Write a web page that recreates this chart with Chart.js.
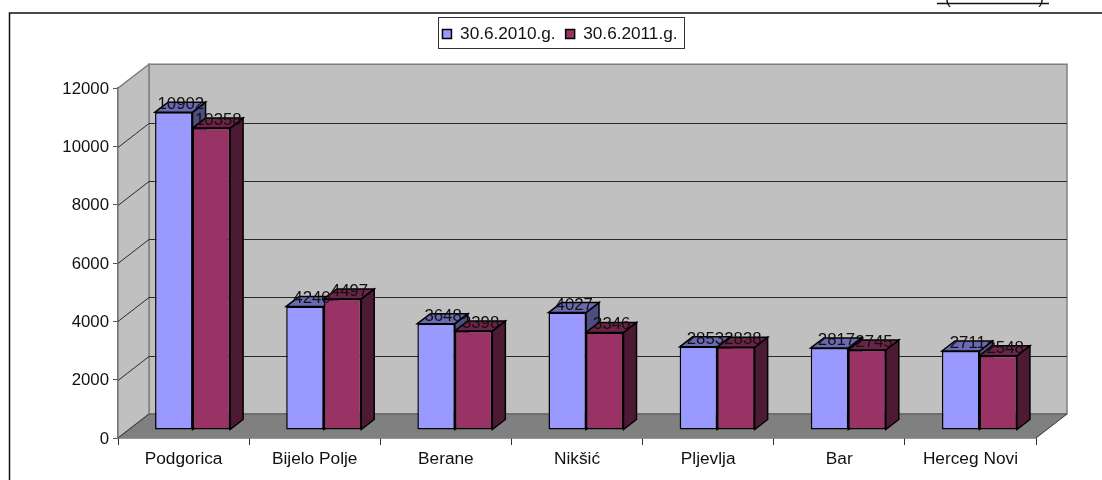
<!DOCTYPE html>
<html>
<head>
<meta charset="utf-8">
<style>
html, body { margin: 0; padding: 0; background: #fff; overflow: hidden; }
#wrap { position: absolute; left: 0; top: 0; width: 1102px; height: 480px; }
</style>
<script src="https://cdn.jsdelivr.net/npm/chart.js@4"></script>
</head>
<body>
<div id="wrap"><canvas id="chart" width="1102" height="480"></canvas></div>
<script>
// Data
const categories = ['Podgorica', 'Bijelo Polje', 'Berane', 'Nikšić', 'Pljevlja', 'Bar', 'Herceg Novi'];
const series2010 = [10902, 4240, 3648, 4027, 2853, 2817, 2711];
const series2011 = [10358, 4497, 3398, 3346, 2838, 2745, 2548];
const seriesNames = ['30.6.2010.g.', '30.6.2011.g.'];
const yMax = 12000;
const yStep = 2000;

const fontFamily = '"Liberation Sans", Arial, sans-serif';
const depthX = 31, depthY = 24;     // wall depth
const barShiftX = 9, barShiftY = 8; // bars stand a little inside the floor
const barDepthX = 13, barDepthY = 10;
const faceColors = [['#6a6ab3', '#4d4d80'], ['#6b2447', '#4d1a33']]; // top, side

function poly(ctx, pts, fill, stroke, lw) {
    ctx.beginPath();
    pts.forEach((p, i) => i ? ctx.lineTo(p[0], p[1]) : ctx.moveTo(p[0], p[1]));
    ctx.closePath();
    if (fill) { ctx.fillStyle = fill; ctx.fill(); }
    if (stroke) { ctx.strokeStyle = stroke; ctx.lineWidth = lw || 1; ctx.stroke(); }
}

// Frame, walls, floor and grid
const wallsPlugin = {
    id: 'walls',
    beforeDatasetsDraw(chart) {
        const ctx = chart.ctx, a = chart.chartArea, y = chart.scales.y;
        const l = a.left, r = a.right, t = a.top, b = a.bottom;
        ctx.save();
        poly(ctx, [[l + depthX, t - depthY], [r + depthX, t - depthY], [r + depthX, b - depthY], [l + depthX, b - depthY]], '#c0c0c0', '#808080', 1.5);
        poly(ctx, [[l, t], [l + depthX, t - depthY], [l + depthX, b - depthY], [l, b]], '#c0c0c0', '#808080', 1.5);
        poly(ctx, [[l, b], [l + depthX, b - depthY], [r + depthX, b - depthY], [r, b]], '#808080');
        ctx.strokeStyle = '#2a2a2a';
        ctx.lineWidth = 1;
        for (let v = yStep; v < yMax; v += yStep) {
            const py = Math.round(y.getPixelForValue(v)) + 0.5;
            ctx.beginPath();
            ctx.moveTo(l, py);
            ctx.lineTo(l + depthX, py - depthY);
            ctx.lineTo(r + depthX, py - depthY);
            ctx.stroke();
        }
        ctx.strokeStyle = '#666';
        ctx.lineWidth = 1.5;
        ctx.beginPath();
        ctx.moveTo(l + depthX, b - depthY);
        ctx.lineTo(r + depthX, b - depthY);
        ctx.stroke();
        ctx.strokeStyle = '#333';
        ctx.lineWidth = 1;
        ctx.beginPath();
        ctx.moveTo(r, b);
        ctx.lineTo(r + depthX, b - depthY);
        ctx.moveTo(l, b);
        ctx.lineTo(l + depthX, b - depthY);
        ctx.stroke();

        // side and top faces first, blue then red, the library then paints the fronts over them
        ctx.translate(barShiftX, -barShiftY);
        chart.data.datasets.forEach((ds, i) => {
            chart.getDatasetMeta(i).data.forEach(bar => {
                const w = bar.width / 2;
                const x0 = bar.x - w, x1 = bar.x + w;
                poly(ctx, [[x1, bar.y], [x1 + barDepthX, bar.y - barDepthY], [x1 + barDepthX, bar.base - barDepthY], [x1, bar.base]], faceColors[i][1], '#000', 1.5);
                poly(ctx, [[x0, bar.y], [x0 + barDepthX, bar.y - barDepthY], [x1 + barDepthX, bar.y - barDepthY], [x1, bar.y]], faceColors[i][0], '#000', 1.5);
            });
        });
        ctx.restore();
    },
    beforeDatasetDraw(chart) {
        chart.ctx.save();
        chart.ctx.translate(barShiftX, -barShiftY);
    },
    afterDatasetDraw(chart) {
        chart.ctx.restore();
    },
    afterDatasetsDraw(chart) {
        const ctx = chart.ctx;
        ctx.save();
        ctx.font = '16.8px ' + fontFamily;
        ctx.fillStyle = '#111';
        ctx.textAlign = 'center';
        ctx.textBaseline = 'alphabetic';
        chart.data.datasets.forEach((ds, i) => {
            chart.getDatasetMeta(i).data.forEach((bar, j) => {
                ctx.fillText(ds.data[j], bar.x + barShiftX + 7, bar.y - barShiftY - 3);
            });
        });
        ctx.restore();
    },
    afterLayout(chart) {
        // legend box sits right of centre, well above the plot
        const lg = chart.legend;
        const w = lg.right - lg.left, h = lg.bottom - lg.top;
        lg.left = 560 - w / 2; lg.right = lg.left + w;
        lg.top = 34 - h / 2; lg.bottom = lg.top + h;
    },
    beforeDraw(chart) {
        const ctx = chart.ctx;
        ctx.save();
        ctx.strokeStyle = '#111';
        ctx.lineWidth = 1.5;
        ctx.beginPath();
        ctx.moveTo(9.5, 480);
        ctx.lineTo(9.5, 13);
        ctx.lineTo(1102, 13);
        ctx.moveTo(937, 3.5);
        ctx.lineTo(1049, 3.5);
        ctx.stroke();
        ctx.lineWidth = 1;
        ctx.strokeStyle = '#333';
        ctx.strokeRect(438.5, 17.5, 246, 31);
        // only the feet of the cropped unit caption's brackets are left in the picture
        ctx.fillStyle = '#111';
        ctx.font = '16.8px ' + fontFamily;
        ctx.textAlign = 'center';
        ctx.fillText('(', 948, -1);
        ctx.fillText(')', 1041, -1);
        ctx.restore();
    }
};

Chart.register(wallsPlugin);

new Chart(document.getElementById('chart'), {
    type: 'bar',
    data: {
        labels: categories,
        datasets: [{
            label: seriesNames[0],
            data: series2010,
            backgroundColor: '#9999ff',
            borderColor: '#000',
            borderWidth: 1.5,
            borderSkipped: false
        }, {
            label: seriesNames[1],
            data: series2011,
            backgroundColor: '#993366',
            borderColor: '#000',
            borderWidth: 1.5,
            borderSkipped: false
        }]
    },
    options: {
        responsive: false,
        animation: false,
        devicePixelRatio: 1,
        layout: { padding: { left: 40, right: 66, top: 51, bottom: 0 } },
        plugins: {
            tooltip: { enabled: false },
            title: { display: false },
            legend: {
                position: 'top',
                labels: {
                    boxWidth: 9, boxHeight: 9, padding: 10,
                    color: '#111',
                    font: { family: fontFamily, size: 17.2 }
                }
            }
        },
        datasets: { bar: { categoryPercentage: 0.572, barPercentage: 1, clip: false } },
        scales: {
            x: {
                grid: { drawOnChartArea: false, tickLength: 7, color: '#333', offset: true },
                border: { color: '#333', width: 1.5 },
                ticks: { color: '#111', padding: 4, maxRotation: 0, font: { family: fontFamily, size: 17.3 } },
                afterFit(scale) { scale.height = 42; }
            },
            y: {
                min: 0,
                max: yMax,
                grid: { drawOnChartArea: false, tickLength: 5, color: '#555' },
                border: { color: '#555', width: 1.5 },
                ticks: { stepSize: yStep, color: '#111', padding: 4, labelOffset: 1, font: { family: fontFamily, size: 16.8 }, callback: v => String(v) },
                afterFit(scale) { scale.width = 78; }
            }
        }
    }
});
</script>
</body>
</html>
